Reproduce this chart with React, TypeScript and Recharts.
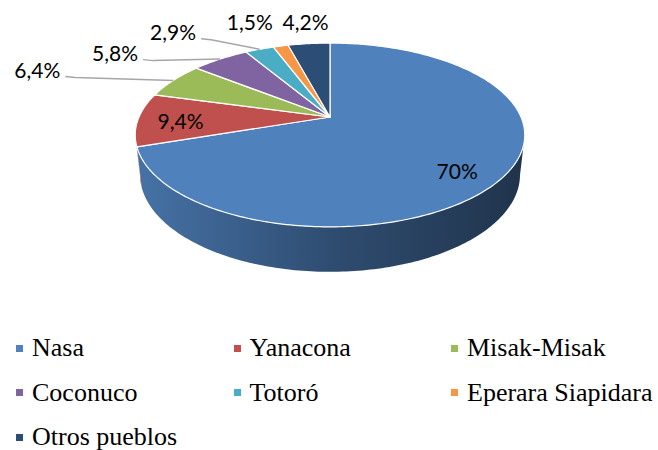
import React from 'react';
import { PieChart, Pie, Legend } from 'recharts';

const categories = ['Nasa', 'Yanacona', 'Misak-Misak', 'Coconuco', 'Totoró', 'Eperara Siapidara', 'Otros pueblos'];
const values = [70, 9.4, 6.4, 5.8, 2.9, 1.5, 4.2];
const valueLabels = ['70%', '9,4%', '6,4%', '5,8%', '2,9%', '1,5%', '4,2%'];
const colors = ['#4f81bd', '#c0504d', '#9bbb59', '#8064a2', '#4bacc6', '#f79646', '#2c4d75'];

const data = categories.map((name, i) => ({ name, value: values[i], label: valueLabels[i], fill: colors[i] }));

// label placement: [dx, dy, radius fraction] relative to the projected point at the slice mid-angle
const labelPlacement: [number, number, number][] = [
  [0, 11, 0.75],
  [4, 1, 0.8],
  [-136, -11, 1],
  [-105, -6.5, 1],
  [-86.5, -17.5, 1],
  [-31, -24.5, 1],
  [-3.5, -22, 1],
];
const hasLeader = [false, false, true, true, true, false, false];

// perspective model of the 3D pie
const SIN_T = 0.4627;
const COS_T = 0.8865;
const DIST = 4.534;
const DEPTH = 0.2356;
const TANGENT = (Math.asin(COS_T / DIST) * 180) / Math.PI;

function project(cx: number, cy: number, R: number, deg: number, y: number, r = 1): [number, number] {
  const t = (deg * Math.PI) / 180;
  const u = Math.cos(t) * r;
  const v = Math.sin(t) * r;
  const F = R * DIST;
  const yc = v * SIN_T + y * COS_T;
  const zc = DIST + v * COS_T - y * SIN_T;
  return [cx + (F * u) / zc, cy - (F * yc) / zc];
}

function arcPts(cx: number, cy: number, R: number, a: number, b: number, y: number) {
  const n = Math.max(2, Math.ceil(Math.abs(b - a) / 1));
  const pts: [number, number][] = [];
  for (let i = 0; i <= n; i++) {
    pts.push(project(cx, cy, R, a + ((b - a) * i) / n, y));
  }
  return pts;
}

function shade(hex: string, f: number) {
  const n = parseInt(hex.slice(1), 16);
  const r = Math.round(((n >> 16) & 255) * f);
  const g = Math.round(((n >> 8) & 255) * f);
  const b = Math.round((n & 255) * f);
  return `rgb(${r},${g},${b})`;
}

const TopShape = (p: any) => {
  const { cx, cy, outerRadius, startAngle, endAngle } = p;
  const fill = p.fill || p.payload?.fill;
  const pts = arcPts(cx, cy, outerRadius, startAngle, endAngle, 0);
  const d = `M${cx},${cy} L` + pts.map((q) => `${q[0].toFixed(2)},${q[1].toFixed(2)}`).join(' L') + ' Z';
  return <path d={d} fill={fill} stroke="#ffffff" strokeWidth={1.2} strokeLinejoin="round" />;
};

const SideShape = (p: any) => {
  const { cx, cy, outerRadius, startAngle, endAngle, index } = p;
  const fill = p.fill || p.payload?.fill;
  const lo = Math.max(Math.min(startAngle, endAngle), -180 + TANGENT);
  const hi = Math.min(Math.max(startAngle, endAngle), -TANGENT);
  if (hi <= lo) return <g />;
  const top = arcPts(cx, cy, outerRadius, lo, hi, 0);
  const bot = arcPts(cx, cy, outerRadius, hi, lo, -DEPTH);
  const all = top.concat(bot);
  const d = 'M' + all.map((q) => `${q[0].toFixed(2)},${q[1].toFixed(2)}`).join(' L') + ' Z';
  const id = `side-grad-${index}`;
  return (
    <g>
      <defs>
        <linearGradient id={id} gradientUnits="userSpaceOnUse" x1={cx - outerRadius} y1={0} x2={cx + outerRadius} y2={0}>
          <stop offset="0" stopColor={shade(fill, 0.88)} />
          <stop offset="0.5" stopColor={shade(fill, 0.6)} />
          <stop offset="1" stopColor={shade(fill, 0.4)} />
        </linearGradient>
      </defs>
      <path d={d} fill={`url(#${id})`} stroke="none" />
    </g>
  );
};

const renderLabel = (p: any) => {
  const { cx, cy, outerRadius, midAngle, index } = p;
  const [dx, dy, r] = labelPlacement[index];
  const [ex, ey] = project(cx, cy, outerRadius, midAngle, 0, r);
  const tx = ex + dx;
  const ty = ey + dy;
  return (
    <g key={`lbl-${index}`}>
      {hasLeader[index] && (
        <polyline
          points={`${tx + 28},${ty + 7} ${tx + 38},${ty + 8} ${ex},${ey}`}
          fill="none"
          stroke="#a6a6a6"
          strokeWidth={1.5}
        />
      )}
      <text
        x={tx}
        y={ty}
        textAnchor="middle"
        dominantBaseline="central"
        fontFamily="Lato"
        fontSize={21}
        fill="#000000"
      >
        {valueLabels[index]}
      </text>
    </g>
  );
};

const renderLegend = (props: any) => {
  const raw = (props.payload || []).filter((e: any) => e.type !== 'none');
  const seen = new Set<string>();
  const items = raw
    .filter((e: any) => {
      if (seen.has(e.value)) return false;
      seen.add(e.value);
      return true;
    })
    .sort((a: any, b: any) => categories.indexOf(a.value) - categories.indexOf(b.value));
  return (
    <div style={{ position: 'relative', width: 658, height: 113 }}>
      {items.map((e: any, i: number) => {
        const col = i % 3;
        const row = Math.floor(i / 3);
        const ci = categories.indexOf(e.value);
        return (
          <div
            key={`leg-${i}`}
            style={{
              position: 'absolute',
              left: 16 + col * 217.5,
              top: row * 44.5,
              height: 24,
              display: 'flex',
              alignItems: 'center',
            }}
          >
            <span
              style={{
                width: 7,
                height: 7,
                background: colors[ci] || e.color,
                marginRight: 9,
                display: 'inline-block',
              }}
            />
            <span
              style={{
                fontFamily: '"Liberation Serif"',
                fontSize: 26,
                lineHeight: '24px',
                color: '#000',
                whiteSpace: 'nowrap',
              }}
            >
              {e.value}
            </span>
          </div>
        );
      })}
    </div>
  );
};

export default function App() {
  return (
    <div style={{ position: 'absolute', left: 0, top: 0, width: 658, height: 450, background: '#ffffff' }}>
      <PieChart width={658} height={450} margin={{ top: 0, right: 0, bottom: 0, left: 0 }}>
        <Pie
          data={data}
          dataKey="value"
          nameKey="name"
          cx={330}
          cy={117}
          outerRadius={191}
          startAngle={90}
          endAngle={-270}
          isAnimationActive={false}
          legendType="none"
          shape={SideShape}
          label={false}
          labelLine={false}
        />
        <Pie
          data={data}
          dataKey="value"
          nameKey="name"
          cx={330}
          cy={117}
          outerRadius={191}
          startAngle={90}
          endAngle={-270}
          isAnimationActive={false}
          shape={TopShape}
          label={renderLabel}
          labelLine={false}
        />
        <Legend
          content={renderLegend}
          wrapperStyle={{ position: 'absolute', left: 0, top: 336, width: 658 }}
        />
      </PieChart>
    </div>
  );
}
